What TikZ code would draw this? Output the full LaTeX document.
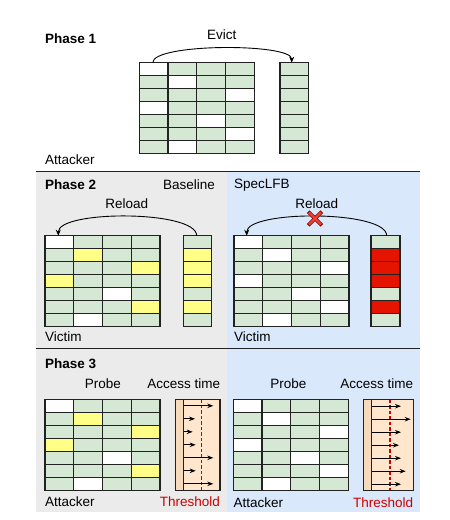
\documentclass[tikz,border=0pt]{standalone}
\usepackage{fontspec}
\setmainfont{Liberation Sans}
\usetikzlibrary{arrows.meta,shapes.misc}
\definecolor{cellgreen}{HTML}{D5E8D4}
\definecolor{hityellow}{HTML}{FFFF88}
\definecolor{blockred}{HTML}{E51400}
\definecolor{panelgray}{HTML}{EBEBEB}
\definecolor{panelblue}{HTML}{DAE8FC}
\definecolor{timepeach}{HTML}{FFE6CC}
\definecolor{strippeach}{HTML}{F7D9BC}
\definecolor{thresred}{HTML}{CC0000}
\definecolor{edgegray}{HTML}{222222}
\tikzset{
  cell/.style={draw=edgegray,line width=1.2pt},
  lbl/.style={font=\fontsize{13.5}{16}\selectfont,inner sep=0pt},
  ttl/.style={inner sep=0pt,font=\fontsize{13.5}{16}\selectfont\bfseries},
  flow/.style={line width=0.9pt,-{Stealth[length=6pt,width=5pt]}},
  tick/.style={line width=0.9pt,-{Stealth[length=6pt,width=4.5pt]}},
}

\begin{document}
\begin{tikzpicture}[x=1pt,y=-1pt]
\useasboundingbox (0,0) rectangle (450,520);
\fill[panelgray] (36,171.7) rectangle (226.7,511.7);
\fill[panelblue] (226.7,171.7) rectangle (420,511.7);
\draw[edgegray,line width=1.3pt] (36,171.7) -- (420,171.7);
\draw[edgegray,line width=1.3pt] (36,348.3) -- (420,348.3);

% phase 1
\node[ttl,anchor=west] (ph1) at (45,39) {Phase 1};
\begin{scope}[shift={(139.3,62.7)}]
\foreach \r in {0,...,6} \foreach \c in {0,...,3}
  \draw[cell,fill=cellgreen] (\c*28.75,\r*13) rectangle ++(28.75,13);
\foreach \c/\r in {0/0,1/1,3/2,0/3,2/4,3/5,1/6}
  \draw[cell,fill=white] (\c*28.75,\r*13) rectangle ++(28.75,13);
\coordinate (evsrc) at (13.4,0);
\end{scope}
\begin{scope}[shift={(280,62.7)}]
\foreach \r in {0,...,6}
  \draw[cell,fill=cellgreen] (0,\r*13) rectangle ++(28.4,13);
\coordinate (evdst) at (11.7,0);
\end{scope}
\draw[flow] (evsrc) .. controls ++(0,-19.6) and ++(0,-19.6) .. (evdst);
\node[lbl] (evictlbl) at (221.7,35) {Evict};
\node[lbl,anchor=west] (att1) at (45,160) {Attacker};

% phase 2
\node[ttl,anchor=west] (ph2) at (45,185) {Phase 2};
\node[lbl] (base) at (189,185) {Baseline};
\node[lbl,anchor=west] (spec) at (234,185) {SpecLFB};
\begin{scope}[shift={(45,235.7)}]
\foreach \r in {0,...,6} \foreach \c in {0,...,3}
  \draw[cell,fill=cellgreen] (\c*28.75,\r*13) rectangle ++(28.75,13);
\foreach \c/\r/\k in {0/0/white,1/1/hityellow,3/2/hityellow,0/3/hityellow,2/4/white,3/5/hityellow,1/6/white}
  \draw[cell,fill=\k] (\c*28.75,\r*13) rectangle ++(28.75,13);
\coordinate (rldst1) at (13.3,0);
\end{scope}
\begin{scope}[shift={(183.3,235.7)}]
\foreach \r/\k in {0/cellgreen,1/hityellow,2/hityellow,3/hityellow,4/cellgreen,5/hityellow,6/cellgreen}
  \draw[cell,fill=\k] (0,\r*13) rectangle ++(28.4,13);
\coordinate (rlsrc1) at (13.4,0);
\end{scope}
\draw[flow] (rlsrc1) .. controls ++(0,-25.7) and ++(0,-25.7) .. (rldst1);
\node[lbl] (reload1) at (126.7,203.3) {Reload};
\node[lbl,anchor=west] (vic1) at (45,337) {Victim};

\begin{scope}[shift={(234,235.7)}]
\foreach \r in {0,...,6} \foreach \c in {0,...,3}
  \draw[cell,fill=cellgreen] (\c*28.75,\r*13) rectangle ++(28.75,13);
\foreach \c/\r in {0/0,1/1,3/2,0/3,2/4,3/5,1/6}
  \draw[cell,fill=white] (\c*28.75,\r*13) rectangle ++(28.75,13);
\coordinate (rldst2) at (12.7,0);
\end{scope}
\begin{scope}[shift={(371,235.7)}]
\foreach \r/\k in {0/cellgreen,1/blockred,2/blockred,3/blockred,4/cellgreen,5/blockred,6/cellgreen}
  \draw[cell,fill=\k] (0,\r*13) rectangle ++(29,13);
\coordinate (rlsrc2) at (15.7,0);
\end{scope}
\draw[flow] (rlsrc2) .. controls ++(0,-25.7) and ++(0,-25.7) .. (rldst2);
\node[lbl] (reload2) at (316.7,203.3) {Reload};
\node[cross out,draw=red!55!black,line width=3.6pt,minimum size=10pt,inner sep=0pt] (blockedrim) at (315,218.5) {};
\node[cross out,draw=blockred!80!white,line width=2.2pt,minimum size=10pt,inner sep=0pt] (blocked) at (315,218.5) {};
\node[lbl,anchor=west] (vic2) at (234,337) {Victim};

% phase 3
\node[ttl,anchor=west] (ph3) at (45,363.3) {Phase 3};
\node[lbl] (probe1) at (102.8,383.3) {Probe};
\node[lbl] (acc1) at (183.7,383.3) {Access time};
\begin{scope}[shift={(45,399.3)}]
\foreach \r in {0,...,6} \foreach \c in {0,...,3}
  \draw[cell,fill=cellgreen] (\c*28.75,\r*13) rectangle ++(28.75,13);
\foreach \c/\r/\k in {0/0/white,1/1/hityellow,3/2/hityellow,0/3/hityellow,2/4/white,3/5/hityellow,1/6/white}
  \draw[cell,fill=\k] (\c*28.75,\r*13) rectangle ++(28.75,13);
\end{scope}
\begin{scope}[shift={(175.7,399.3)}]
\fill[timepeach] (0,0) rectangle (44.3,91);
\fill[strippeach] (0,0) rectangle (7.6,91);
\draw[thresred,line width=1.3pt,dash pattern=on 3.5pt off 2pt] (26,0) -- (26,91);
\foreach \r/\e in {0/37.6,1/19.3,2/17,3/20,4/37.6,5/20,6/37.6}
  \draw[tick] (7.6,\r*13+6.5) -- (\e,\r*13+6.5);
\draw[edgegray,line width=1pt] (7.6,0) -- (7.6,91);
\draw[cell] (0,0) rectangle (44.3,91);
\end{scope}
\node[lbl,anchor=west] (att3a) at (45,502) {Attacker};
\node[lbl,anchor=east,text=thresred] (thr1) at (220,502) {Threshold};

\node[lbl] (probe2) at (288.3,383.3) {Probe};
\node[lbl] (acc2) at (376.7,383.3) {Access time};
\begin{scope}[shift={(233.3,399.7)}]
\foreach \r in {0,...,6} \foreach \c in {0,...,3}
  \draw[cell,fill=cellgreen] (\c*28.75,\r*13) rectangle ++(28.75,13);
\foreach \c/\r in {0/0,1/1,3/2,0/3,2/4,3/5,1/6}
  \draw[cell,fill=white] (\c*28.75,\r*13) rectangle ++(28.75,13);
\end{scope}
\begin{scope}[shift={(363.3,399.7)}]
\fill[timepeach] (0,0) rectangle (50,91);
\fill[strippeach] (0,0) rectangle (8.4,91);
\draw[thresred,line width=1.3pt,dash pattern=on 3.5pt off 2pt] (26.7,0) -- (26.7,91);
\foreach \r/\e in {0/37.7,1/47.4,2/37.7,3/35.7,4/37.7,5/42.4,6/37.7}
  \draw[tick] (8.4,\r*13+6.5) -- (\e,\r*13+6.5);
\draw[edgegray,line width=1pt] (8.4,0) -- (8.4,91);
\draw[cell] (0,0) rectangle (50,91);
\end{scope}
\node[lbl,anchor=west] (att3b) at (233.3,503) {Attacker};
\node[lbl,anchor=east,text=thresred] (thr2) at (413.3,503) {Threshold};
\end{tikzpicture}
\end{document}
